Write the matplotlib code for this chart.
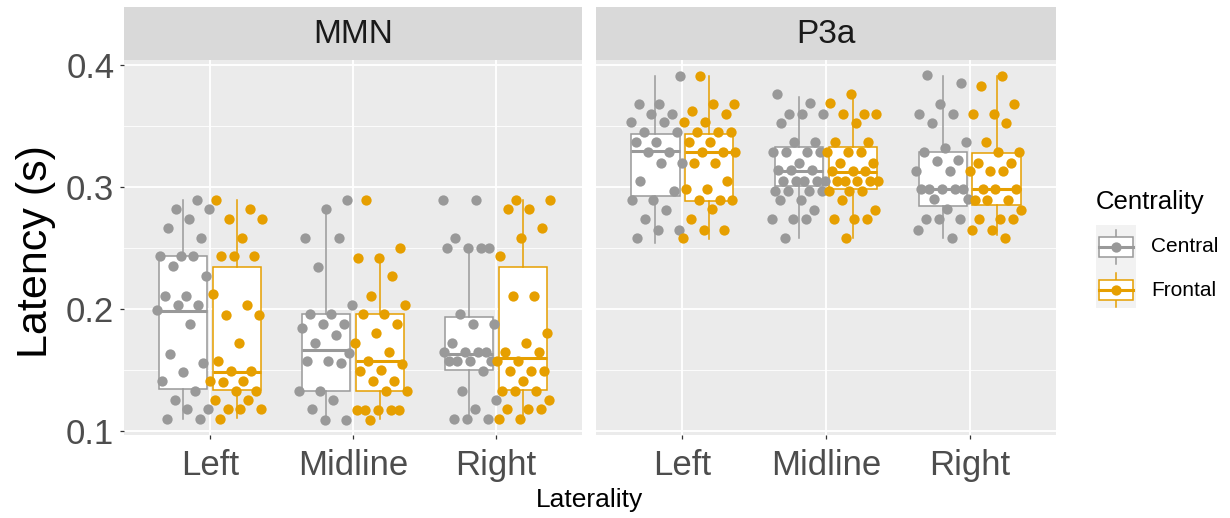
import matplotlib
matplotlib.use('Agg')
import matplotlib.pyplot as plt
import numpy as np
from matplotlib.patches import Rectangle
from matplotlib.lines import Line2D

plt.rcParams['font.family'] = ['Liberation Sans', 'DejaVu Sans']

# ---------------- data ----------------
facets = ['MMN', 'P3a']
laterality = ['Left', 'Midline', 'Right']
centrality = ['Central', 'Frontal']
y_ticks = [0.1, 0.2, 0.3, 0.4]

mmn_left_central = [0.289, 0.282, 0.282, 0.274, 0.266, 0.258, 0.243, 0.243, 0.243, 0.235, 0.227, 0.211, 0.211, 0.203,
                    0.203, 0.199, 0.188, 0.163, 0.156, 0.148, 0.141, 0.133, 0.125, 0.118, 0.118, 0.110, 0.110]
mmn_left_frontal = [0.289, 0.282, 0.274, 0.274, 0.258, 0.243, 0.243, 0.243, 0.212, 0.203, 0.195, 0.195, 0.172, 0.157,
                    0.149, 0.149, 0.141, 0.141, 0.140, 0.133, 0.133, 0.125, 0.125, 0.118, 0.118, 0.118, 0.110]
mmn_mid_central = [0.289, 0.282, 0.258, 0.258, 0.234, 0.203, 0.196, 0.196, 0.188, 0.188, 0.184, 0.179, 0.172, 0.164,
                   0.157, 0.157, 0.156, 0.133, 0.133, 0.125, 0.118, 0.109, 0.109]
mmn_mid_frontal = [0.289, 0.250, 0.242, 0.242, 0.227, 0.211, 0.203, 0.196, 0.196, 0.188, 0.180, 0.172, 0.165, 0.157,
                   0.155, 0.150, 0.149, 0.141, 0.141, 0.133, 0.133, 0.117, 0.117, 0.117, 0.117, 0.117, 0.109]
mmn_right_central = [0.289, 0.289, 0.258, 0.250, 0.250, 0.250, 0.250, 0.196, 0.188, 0.188, 0.172, 0.165, 0.165, 0.165,
                     0.165, 0.157, 0.157, 0.157, 0.157, 0.149, 0.133, 0.125, 0.118, 0.110, 0.110, 0.110]
mmn_right_frontal = [0.289, 0.289, 0.282, 0.282, 0.266, 0.258, 0.243, 0.211, 0.211, 0.180, 0.172, 0.165, 0.165, 0.157,
                     0.157, 0.149, 0.149, 0.149, 0.141, 0.133, 0.133, 0.133, 0.125, 0.118, 0.118, 0.118, 0.110, 0.110]
p3a_left_central = [0.391, 0.368, 0.368, 0.360, 0.360, 0.353, 0.353, 0.345, 0.345, 0.337, 0.337, 0.329, 0.329, 0.320,
                    0.320, 0.305, 0.297, 0.289, 0.289, 0.281, 0.274, 0.265, 0.265, 0.258]
p3a_left_frontal = [0.391, 0.368, 0.368, 0.362, 0.360, 0.353, 0.353, 0.345, 0.345, 0.345, 0.337, 0.337, 0.329, 0.329,
                    0.329, 0.320, 0.320, 0.305, 0.298, 0.298, 0.289, 0.289, 0.289, 0.282, 0.274, 0.265, 0.265, 0.258]
p3a_mid_central = [0.376, 0.369, 0.360, 0.360, 0.360, 0.352, 0.337, 0.337, 0.329, 0.329, 0.329, 0.329, 0.320, 0.314,
                   0.314, 0.314, 0.305, 0.305, 0.305, 0.305, 0.305, 0.297, 0.297, 0.297, 0.297, 0.289, 0.289, 0.281,
                   0.274, 0.274, 0.274, 0.258]
p3a_mid_frontal = [0.376, 0.369, 0.360, 0.360, 0.360, 0.352, 0.337, 0.337, 0.329, 0.329, 0.329, 0.320, 0.320, 0.313,
                   0.313, 0.313, 0.305, 0.305, 0.305, 0.305, 0.305, 0.297, 0.297, 0.297, 0.289, 0.281, 0.274, 0.274,
                   0.274, 0.258]
p3a_right_central = [0.392, 0.385, 0.368, 0.360, 0.360, 0.352, 0.337, 0.332, 0.329, 0.322, 0.321, 0.313, 0.313, 0.298,
                     0.298, 0.298, 0.298, 0.298, 0.290, 0.290, 0.282, 0.274, 0.274, 0.274, 0.265, 0.258]
p3a_right_frontal = [0.391, 0.383, 0.368, 0.360, 0.360, 0.352, 0.337, 0.329, 0.329, 0.320, 0.320, 0.313, 0.313, 0.313,
                     0.298, 0.298, 0.298, 0.289, 0.289, 0.289, 0.281, 0.274, 0.274, 0.274, 0.265, 0.265, 0.258]

# box summaries: (whisker low, q1, median, q3, whisker high)
box_mmn_left_central = (0.110, 0.1345, 0.198, 0.243, 0.289)
box_mmn_left_frontal = (0.111, 0.1336, 0.148, 0.2345, 0.289)
box_mmn_mid_central = (0.109, 0.133, 0.1667, 0.1956, 0.2805)
box_mmn_mid_frontal = (0.110, 0.133, 0.157, 0.1956, 0.2377)
box_mmn_right_central = (0.110, 0.1496, 0.1628, 0.1937, 0.250)
box_mmn_right_frontal = (0.111, 0.1336, 0.160, 0.2345, 0.2895)
box_p3a_left_central = (0.2543, 0.2928, 0.3292, 0.343, 0.3906)
box_p3a_left_frontal = (0.257, 0.2887, 0.329, 0.343, 0.391)
box_p3a_mid_central = (0.2584, 0.301, 0.3127, 0.3328, 0.374)
box_p3a_mid_frontal = (0.258, 0.298, 0.312, 0.333, 0.374)
box_p3a_right_central = (0.258, 0.2846, 0.2983, 0.3287, 0.3906)
box_p3a_right_frontal = (0.2605, 0.285, 0.298, 0.328, 0.391)

points = {
    ('MMN', 'Left', 'Central'): mmn_left_central, ('MMN', 'Left', 'Frontal'): mmn_left_frontal,
    ('MMN', 'Midline', 'Central'): mmn_mid_central, ('MMN', 'Midline', 'Frontal'): mmn_mid_frontal,
    ('MMN', 'Right', 'Central'): mmn_right_central, ('MMN', 'Right', 'Frontal'): mmn_right_frontal,
    ('P3a', 'Left', 'Central'): p3a_left_central, ('P3a', 'Left', 'Frontal'): p3a_left_frontal,
    ('P3a', 'Midline', 'Central'): p3a_mid_central, ('P3a', 'Midline', 'Frontal'): p3a_mid_frontal,
    ('P3a', 'Right', 'Central'): p3a_right_central, ('P3a', 'Right', 'Frontal'): p3a_right_frontal,
}
boxes = {
    ('MMN', 'Left', 'Central'): box_mmn_left_central, ('MMN', 'Left', 'Frontal'): box_mmn_left_frontal,
    ('MMN', 'Midline', 'Central'): box_mmn_mid_central, ('MMN', 'Midline', 'Frontal'): box_mmn_mid_frontal,
    ('MMN', 'Right', 'Central'): box_mmn_right_central, ('MMN', 'Right', 'Frontal'): box_mmn_right_frontal,
    ('P3a', 'Left', 'Central'): box_p3a_left_central, ('P3a', 'Left', 'Frontal'): box_p3a_left_frontal,
    ('P3a', 'Midline', 'Central'): box_p3a_mid_central, ('P3a', 'Midline', 'Frontal'): box_p3a_mid_frontal,
    ('P3a', 'Right', 'Central'): box_p3a_right_central, ('P3a', 'Right', 'Frontal'): box_p3a_right_frontal,
}

# ---------------- style ----------------
colors = {'Central': '#999999', 'Frontal': '#E69F00'}
dodge = {'Central': -0.1875, 'Frontal': 0.1875}
box_w = 0.3375
jit = 0.19
panel_bg = '#EBEBEB'
strip_bg = '#D9D9D9'

W, H = 1230, 518
fig = plt.figure(figsize=(W / 100, H / 100), dpi=100)


def fbox(x0, y0, x1, y1):
    return [x0 / W, 1 - y1 / H, (x1 - x0) / W, (y1 - y0) / H]


panel_px = [(124, 60, 582, 435), (596, 60, 1056, 435)]
strip_px = [(124, 7, 582, 60), (596, 7, 1056, 60)]

for fi, facet in enumerate(facets):
    ax = fig.add_axes(fbox(*panel_px[fi]))
    ax.set_facecolor(panel_bg)
    for s in ax.spines.values():
        s.set_visible(False)
    ax.set_xlim(-0.6, 2.6)
    ax.set_ylim(0.0967, 0.404)
    ax.set_xticks(range(len(laterality)))
    ax.set_xticklabels(laterality)
    ax.set_yticks(y_ticks)
    ax.set_yticks([0.15, 0.25, 0.35], minor=True)
    ax.grid(which='major', color='white', linewidth=1.3)
    ax.grid(which='minor', axis='y', color='white', linewidth=0.6)
    ax.set_axisbelow(True)
    ax.tick_params(which='minor', length=0)
    ax.tick_params(axis='both', which='major', length=3, width=0.9, color='#333333',
                   labelsize=25, labelcolor='#4D4D4D')
    ax.tick_params(axis='x', pad=7)
    ax.tick_params(axis='y', pad=4)
    if fi == 0:
        ax.set_yticklabels(['%.1f' % t for t in y_ticks])
    else:
        ax.tick_params(axis='y', length=0, labelleft=False)

    for li, lat in enumerate(laterality):
        for ci, cen in enumerate(centrality):
            c = colors[cen]
            pos = li + dodge[cen]
            wl, q1, med, q3, wh = boxes[(facet, lat, cen)]
            stats = [dict(whislo=wl, q1=q1, med=med, q3=q3, whishi=wh)]
            ax.bxp(stats, positions=[pos], widths=box_w, patch_artist=True, showfliers=False,
                   showcaps=False, manage_ticks=False,
                   boxprops=dict(facecolor='white', edgecolor=c, linewidth=1.1),
                   whiskerprops=dict(color=c, linewidth=1.1),
                   medianprops=dict(color=c, linewidth=2.2), zorder=2)
            vals = np.array(points[(facet, lat, cen)])
            n = len(vals)
            seed = 0.13 * (li + 1) + 0.37 * ci + 0.21 * fi
            offs = ((np.arange(1, n + 1) * 0.6180339887 + seed) % 1.0 - 0.5) * 2 * jit
            ax.scatter(pos + offs, vals, s=55, color=c, linewidths=0, zorder=3)

    sax = fig.add_axes(fbox(*strip_px[fi]))
    sax.set_facecolor(strip_bg)
    sax.set_xticks([])
    sax.set_yticks([])
    for s in sax.spines.values():
        s.set_visible(False)
    sax.text(0.5, 0.48, facet, transform=sax.transAxes, ha='center', va='center',
             fontsize=24, color='#1A1A1A')

# axis titles
fig.text(36 / W, 1 - 252 / H, 'Latency (s)', rotation=90, ha='center', va='center',
         fontsize=31, color='black')
fig.text(589 / W, 1 - 500 / H, 'Laterality', ha='center', va='center', fontsize=19, color='black')

# legend
fig.text(1096 / W, 1 - 202 / H, 'Centrality', ha='left', va='center', fontsize=18.5, color='black')
lax = fig.add_axes(fbox(1096, 225, 1136, 308))
lax.set_xlim(0, 40)
lax.set_ylim(83, 0)
lax.set_facecolor('#F2F2F2')
lax.set_xticks([])
lax.set_yticks([])
for s in lax.spines.values():
    s.set_visible(False)
key_centers = {'Central': 22, 'Frontal': 65}
for cen in centrality:
    c = colors[cen]
    yc = key_centers[cen]
    lax.add_line(Line2D([20, 20], [yc - 17, yc + 17], color=c, lw=1.1))
    lax.add_patch(Rectangle((3, yc - 10), 34, 20, facecolor='white', edgecolor=c, lw=1.1, zorder=2))
    lax.add_line(Line2D([3, 37], [yc, yc], color=c, lw=2.2, zorder=3))
    lax.scatter([20], [yc], s=55, color=c, linewidths=0, zorder=4)
    fig.text(1151 / W, 1 - (225 + yc) / H, cen, ha='left', va='center', fontsize=15, color='black')

fig.savefig('out.png', dpi=100)
